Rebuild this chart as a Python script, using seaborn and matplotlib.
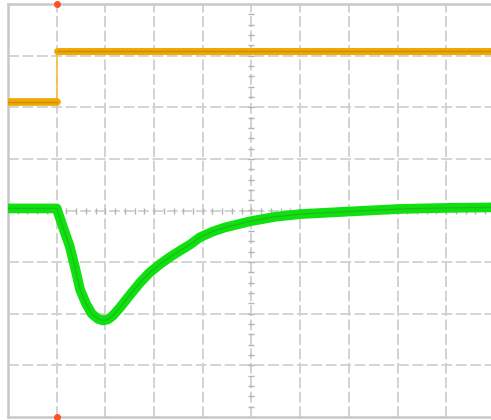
import matplotlib
matplotlib.use("Agg")
import matplotlib.pyplot as plt
import numpy as np
import pandas as pd
import seaborn as sns

# screen in divisions: 10 x 8, trigger at 1 div
ch1_t = [0.0, 1.0, 1.0, 9.92]
ch1_v = [2.11, 2.11, 3.08, 3.08]

ch2_t = [0.0, 0.5, 1.0, 1.05, 1.15, 1.27, 1.38, 1.48, 1.6, 1.72, 1.85, 1.95, 2.05,
         2.15, 2.3, 2.5, 2.71, 2.9, 3.12, 3.33, 3.53, 3.74, 3.94, 4.2, 4.45, 4.97,
         5.5, 6.0, 7.0, 8.05, 9.0, 9.92]
ch2_v = [0.04, 0.04, 0.04, -0.10, -0.38, -0.70, -1.12, -1.53, -1.80, -2.00, -2.10,
         -2.13, -2.11, -2.04, -1.88, -1.64, -1.40, -1.21, -1.04, -0.90, -0.78, -0.66,
         -0.52, -0.41, -0.33, -0.21, -0.12, -0.07, -0.02, 0.03, 0.05, 0.06]

ch1 = pd.DataFrame({"t": ch1_t, "v": ch1_v})
ch2 = pd.DataFrame({"t": ch2_t, "v": ch2_v})

sns.set_style("white")
fig = plt.figure(figsize=(4.91, 4.2), dpi=100)
ax = fig.add_axes([8 / 491, 3 / 420, 483 / 491, 413 / 420])
ax.set_xlim(0, 9.92)
ax.set_ylim(-4, 4)

# graticule
for x in range(1, 10):
    ax.axvline(x, color="#cdd0cd", lw=1.3, ls=(0, (6, 2)), zorder=1)
for y in range(-3, 4):
    ax.axhline(y, color="#cdd3cd", lw=1.3, ls=(0, (6, 2)), zorder=1)
minor = np.arange(0, 10, 0.2)
ax.plot(minor, np.zeros_like(minor), ls="none", marker="|", ms=4, color="#b4b4b4", mew=1.0, zorder=1)
minor_y = np.arange(-4, 4, 0.2)
ax.plot(np.full_like(minor_y, 5.0), minor_y, ls="none", marker="_", ms=4, color="#b4b4b4", mew=1.0, zorder=1)

for side in ["left", "top", "bottom"]:
    ax.spines[side].set_color("#c8c8c8")
    ax.spines[side].set_linewidth(1.8)
ax.spines["right"].set_visible(False)
ax.set_xticks([])
ax.set_yticks([])

# channel 1 (orange step)
sns.lineplot(data=ch1, x="t", y="v", sort=False, estimator=None, color="#f5c040", lw=1.2, ax=ax, zorder=3)
sns.lineplot(data=ch1.iloc[0:2], x="t", y="v", sort=False, estimator=None, color="#f0a800", lw=5.5, ax=ax, zorder=3)
sns.lineplot(data=ch1.iloc[2:4], x="t", y="v", sort=False, estimator=None, color="#f0a800", lw=5.0, ax=ax, zorder=3)
sns.lineplot(data=ch1.iloc[0:2], x="t", y="v", sort=False, estimator=None, color="#c08000", lw=1.0, alpha=0.7, ax=ax, zorder=4)
sns.lineplot(data=ch1.iloc[2:4], x="t", y="v", sort=False, estimator=None, color="#c08000", lw=1.0, alpha=0.7, ax=ax, zorder=4)

# channel 2 (green response)
sns.lineplot(data=ch2, x="t", y="v", sort=False, estimator=None, color="#10e010", lw=7, ax=ax, zorder=3)
sns.lineplot(data=ch2, x="t", y="v", sort=False, estimator=None, color="#20a820", lw=1.0, alpha=0.6, ax=ax, zorder=4)

# trigger markers
ax.plot([1.0, 1.0], [4.0, -4.0], ls="none", marker="o", ms=4, color="#ff5020", clip_on=False, zorder=5)

ax.set_xlabel("")
ax.set_ylabel("")
fig.savefig("out.png", dpi=100)
